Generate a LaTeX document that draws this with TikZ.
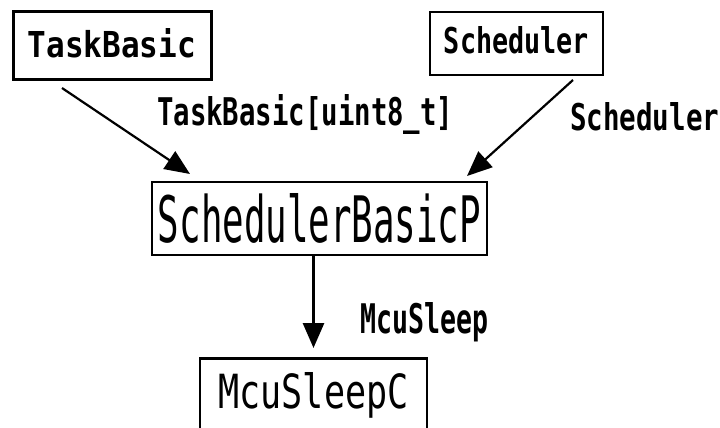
\documentclass[tikz,border=0pt]{standalone}
\usepackage{fontspec}
\usepackage{graphicx}
\setmainfont{DejaVu Sans Mono}
\usetikzlibrary{arrows.meta}
\newcommand\fittext[3]{\resizebox{#1pt}{#2pt}{#3}}
\begin{document}
\begin{tikzpicture}[x=1pt,y=-1pt,
  box/.style={draw=black,line width=2.5pt,inner sep=0pt,rectangle},
  lbl/.style={anchor=base west,inner sep=0pt},
  conn/.style={line width=2.2pt,-{Triangle[length=25pt,width=21pt]}}]
\useasboundingbox (0,0) rectangle (720,428);
\clip (0,0) rectangle (720,428);
\node[box,line width=3pt,minimum width=198pt,minimum height=67pt,text height=29pt,text depth=4pt] (tb) at (112,45.5) {\fittext{168}{29}{\bfseries TaskBasic}};
\node[box,minimum width=173pt,minimum height=63pt,text height=27pt,text depth=8pt] (sc) at (516.5,43.5) {\fittext{145}{27}{\bfseries Scheduler}};
\node[box,minimum width=335pt,minimum height=73pt,text height=49pt,text depth=2pt] (sbp) at (319.5,218.5) {\fittext{323}{49}{SchedulerBasicP}};
\node[box,anchor=north,minimum width=227pt,minimum height=90pt,text height=36pt,text depth=26pt] (mc) at (313.5,357) {\fittext{190}{36}{McuSleepC}};
\node[lbl] (l1) at (157,125) {\fittext{296}{31}{\bfseries TaskBasic[uint8\_t]}};
\node[lbl] (l2) at (570,130) {\fittext{149}{28}{\bfseries Scheduler}};
\node[lbl] (l3) at (360,333) {\fittext{128}{31}{\bfseries McuSleep}};
\coordinate (tbout) at (62,88);
\coordinate (sbpin1) at (190,174);
\coordinate (scout) at (573,80);
\coordinate (sbpin2) at (467,176);
\draw[conn] (tbout) -- (sbpin1);
\draw[conn] (scout) -- (sbpin2);
\draw[conn,line width=2.8pt,shorten >=9pt] (sbp.south -| mc.north) -- (mc.north);
\end{tikzpicture}
\end{document}
